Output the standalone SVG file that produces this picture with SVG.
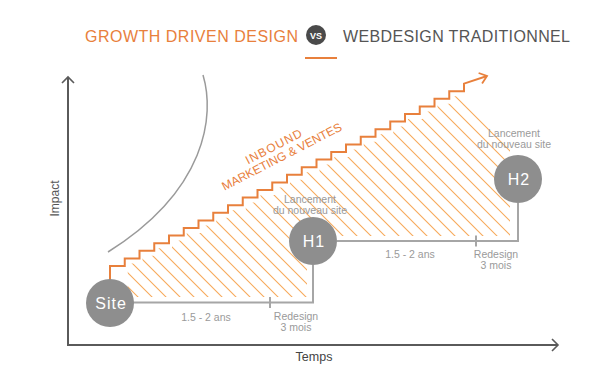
<svg xmlns="http://www.w3.org/2000/svg" width="600" height="381" viewBox="0 0 600 381">
<style>
text{font-family:"Liberation Sans","DejaVu Sans",sans-serif}
.lbl{font-size:10.5px;fill:#9a9a9a;text-anchor:middle}
.node{fill:#8e8e8e}
.ntxt{font-size:16px;fill:#ffffff;text-anchor:middle;letter-spacing:1px}
.tl{fill:none;stroke:#a6a6a6;stroke-width:2}
.axis{fill:none;stroke:#5a5a5a;stroke-width:2}
.orange{fill:#e8803c}
</style>
<defs>
<marker id="axArrow" markerUnits="userSpaceOnUse" markerWidth="14" markerHeight="14" viewBox="-8 -7 10 14" refX="0" refY="0" orient="auto">
<path d="M-6,-6 L0,0 L-6,6" fill="none" stroke="#5a5a5a" stroke-width="1.6"/>
</marker>
<marker id="orArrow" markerUnits="userSpaceOnUse" markerWidth="14" markerHeight="14" viewBox="-9 -7 11 14" refX="0" refY="0" orient="auto">
<path d="M-7,-5.5 L0,0 L-7,5.5" fill="none" stroke="#e8803c" stroke-width="1.8"/>
</marker>
<clipPath id="hatchClip">
<polygon points="127.75,297 127.75,263.4 142.5,263.4 142.5,255.8 157.25,255.8 157.25,248.2 172,248.2 172,240.6 186.75,240.6 186.75,233 201.5,233 201.5,225.4 216.25,225.4 216.25,217.8 231,217.8 231,210.2 245.75,210.2 245.75,202.6 260.5,202.6 260.5,195 275.25,195 275.25,187.4 290,187.4 290,179.8 304.75,179.8 304.75,172.2 319.5,172.2 319.5,164.6 334.25,164.6 334.25,157 349,157 349,149.4 363.75,149.4 363.75,141.8 378.5,141.8 378.5,134.2 393.25,134.2 393.25,126.6 408,126.6 408,119 422.75,119 422.75,111.4 437.5,111.4 437.5,103.8 452.25,103.8 452.25,96.2 467,96.2 510,139.2 510,236 307,236 307,297"/>
</clipPath>
</defs>

<g id="title">
<text x="85" y="41.5" font-size="16" textLength="213" lengthAdjust="spacing" class="orange">GROWTH DRIVEN DESIGN</text>
<circle cx="316" cy="35" r="10" fill="#4a4a4a"/>
<text x="316" y="38.5" font-size="9" font-weight="bold" fill="#ffffff" text-anchor="middle">VS</text>
<text x="343" y="41.5" font-size="16" textLength="227" lengthAdjust="spacing" fill="#555555">WEBDESIGN TRADITIONNEL</text>
<line x1="305" y1="58" x2="337" y2="58" stroke="#e8803c" stroke-width="2"/>
</g>

<g id="axes">
<path class="axis" d="M68,345 V77" marker-end="url(#axArrow)"/>
<path class="axis" d="M67,345 H558" marker-end="url(#axArrow)"/>
<text transform="translate(59,198.5) rotate(-90)" font-size="12" fill="#555555" text-anchor="middle">Impact</text>
<text x="314" y="361" font-size="12.5" fill="#444444" text-anchor="middle">Temps</text>
</g>

<path id="curve" d="M203,75 C215,115 207,190 108,252" fill="none" stroke="#9a9a9a" stroke-width="1.5"/>

<g id="hatching" clip-path="url(#hatchClip)" fill="none" stroke="#f7ab5c" stroke-width="1.1">
<path d="M-113,60 L137,310 M-99,60 L151,310 M-85,60 L165,310 M-71,60 L179,310 M-57,60 L193,310 M-43,60 L207,310 M-29,60 L221,310 M-15,60 L235,310 M-1,60 L249,310 M13,60 L263,310 M27,60 L277,310 M41,60 L291,310 M55,60 L305,310 M69,60 L319,310 M83,60 L333,310 M97,60 L347,310 M111,60 L361,310 M125,60 L375,310 M139,60 L389,310 M153,60 L403,310 M167,60 L417,310 M181,60 L431,310 M195,60 L445,310 M209,60 L459,310 M223,60 L473,310 M237,60 L487,310 M251,60 L501,310 M265,60 L515,310 M279,60 L529,310 M293,60 L543,310 M307,60 L557,310 M321,60 L571,310 M335,60 L585,310 M349,60 L599,310 M363,60 L613,310 M377,60 L627,310 M391,60 L641,310 M405,60 L655,310 M419,60 L669,310 M433,60 L683,310 M447,60 L697,310 M461,60 L711,310 M475,60 L725,310"/>
</g>

<g id="connectors">
<path id="staircase" d="M110,280 V266 H124.75 V258.4 H139.5 V250.8 H154.25 V243.2 H169 V235.6 H183.75 V228 H198.5 V220.4 H213.25 V212.8 H228 V205.2 H242.75 V197.6 H257.5 V190 H272.25 V182.4 H287 V174.8 H301.75 V167.2 H316.5 V159.6 H331.25 V152 H346 V144.4 H360.75 V136.8 H375.5 V129.2 H390.25 V121.6 H405 V114 H419.75 V106.4 H434.5 V98.8 H449.25 V91.2 H464 V83.6 L487,76" fill="none" stroke="#e8803c" stroke-width="2" marker-end="url(#orArrow)"/>
<path class="tl" d="M133,302.5 H313 V265"/>
<line class="tl" x1="270" y1="297" x2="270" y2="308"/>
<path class="tl" d="M337,241 H518 V203"/>
<line class="tl" x1="476" y1="235.5" x2="476" y2="246.5"/>
</g>

<g id="inbound-label" transform="translate(275.5,150.3) rotate(-27.3)">
<text x="0" y="0" font-size="12" class="orange" text-anchor="middle" textLength="62" lengthAdjust="spacing">INBOUND</text>
<text x="2.7" y="12.6" font-size="12" class="orange" text-anchor="middle" textLength="133" lengthAdjust="spacing">MARKETING &amp; VENTES</text>
</g>

<g id="node-site">
<circle class="node" cx="110" cy="303" r="24"/>
<text class="ntxt" x="111" y="308.5" font-size="15">Site</text>
</g>

<g id="node-h1">
<circle class="node" cx="313" cy="241" r="24"/>
<text class="ntxt" x="314" y="247">H1</text>
<text class="lbl" x="310" y="202.5">Lancement</text>
<text class="lbl" x="310" y="213.5">du nouveau site</text>
</g>

<g id="node-h2">
<circle class="node" cx="518" cy="179" r="24"/>
<text class="ntxt" x="519" y="185">H2</text>
<text class="lbl" x="514" y="137">Lancement</text>
<text class="lbl" x="514" y="148">du nouveau site</text>
</g>

<g id="timeline-labels">
<text class="lbl" x="206" y="320.5">1.5 - 2 ans</text>
<text class="lbl" x="296" y="320">Redesign</text>
<text class="lbl" x="296" y="331">3 mois</text>
<text class="lbl" x="410" y="258">1.5 - 2 ans</text>
<text class="lbl" x="496" y="257.5">Redesign</text>
<text class="lbl" x="496" y="268.5">3 mois</text>
</g>
</svg>
